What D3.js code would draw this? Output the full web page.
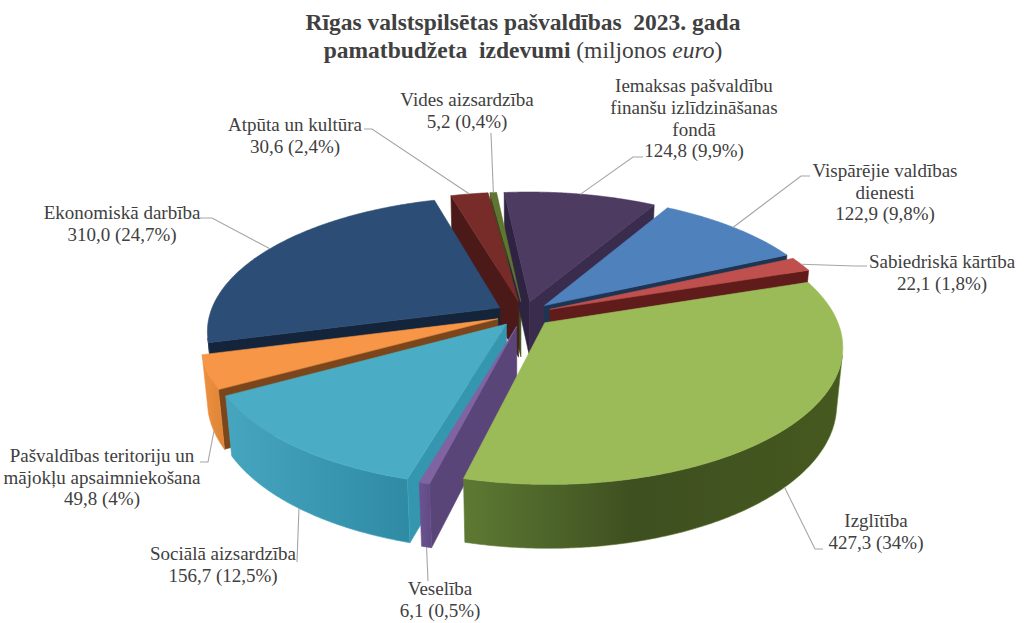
<!DOCTYPE html>
<html>
<head>
<meta charset="utf-8">
<script src="https://cdn.jsdelivr.net/npm/d3@7"></script>
<style>
  html, body { margin: 0; padding: 0; background: #ffffff; }
  svg { display: block; }
  text { white-space: pre; }
</style>
</head>
<body>
<svg id="chart" width="1024" height="623"></svg>
<script>
// ---------------- DATA ----------------
const categories = [
  "Vispārējie valdības\ndienesti",
  "Sabiedriskā kārtība",
  "Izglītība",
  "Veselība",
  "Sociālā aizsardzība",
  "Pašvaldības teritoriju un\nmājokļu apsaimniekošana",
  "Ekonomiskā darbība",
  "Atpūta un kultūra",
  "Vides aizsardzība",
  "Iemaksas pašvaldību\nfinanšu izlīdzināšanas\nfondā"
];
const values = [122.9, 22.1, 427.3, 6.1, 156.7, 49.8, 310.0, 30.6, 5.2, 124.8];
const titleLine1 = "Rīgas valstspilsētas pašvaldības  2023. gada";
const titleLine2Bold = "pamatbudžeta  izdevumi";
const titleLine2Rest = [" (miljonos ", "euro", ")"];

// ---------------- STYLES ----------------
const topColors  = ["#4F81BD", "#C0504D", "#9BBB59", "#8064A2", "#4BACC6", "#F79646", "#2C4D75", "#772C2A", "#5F7530", "#4D3B62"];
const startFaceColors = ["#2F4E73", "#6E2524", "#5C7134", "#5A4578", "#3596B0", "#7B461B", "#14253B", "#4B1917", "#3B4A1C", "#2E2340"];
const endFaceColors   = ["#1D3552", "#5F1C1A", "#4A5E27", "#5A4578", "#2E7F95", "#9A5A24", "#1A2F49", "#4B1917", "#3B4A1C", "#3A2C4C"];
const wallStops = [
  [["0", "#3E638F"], ["1", "#2E4D72"]],
  [["0", "#93403D"], ["1", "#7A302E"]],
  [["0", "#5D7A33"], ["0.45", "#3E4F20"], ["1", "#46591F"]],
  [["0", "#6B5390"], ["1", "#604A84"]],
  [["0", "#46A5BF"], ["0.5", "#3B98B2"], ["1", "#2F8BA4"]],
  [["0", "#EE9040"], ["1", "#DD8436"]],
  [["0", "#1F3A5A"], ["1", "#1A2F49"]],
  [["0", "#5A2120"], ["1", "#4B1917"]],
  [["0", "#4A5C25"], ["1", "#3B4A1C"]],
  [["0", "#3A2C4C"], ["1", "#2E2340"]]
];
const textColor = "#404040";
const leaderColor = "#A6A6A6";
const fontFamily = "'Liberation Serif', 'Times New Roman', serif";
const labelFontSize = 19, labelLineH = 21.7;

// label layout: first-line baseline, centre x, leader points from label toward pie
const labelLayout = [
  { x: 885, y: 177,   leader: [[810, 176], [801, 176]], anchor: "top" },
  { x: 942, y: 268,   leader: [[867, 266], [855, 266]], anchor: "top" },
  { x: 876, y: 527,   leader: [[823, 549], [815, 549]], anchor: "bottom" },
  { x: 440, y: 595,   leader: [[428, 581]], anchor: "bottom" },
  { x: 223, y: 560,   leader: [[297, 562]], anchor: "bottom" },
  { x: 102, y: 462,   leader: [[200, 462], [208, 462]], anchor: "bottom" },
  { x: 122, y: 219,   leader: [[200, 218], [212, 218]], anchor: "top" },
  { x: 295, y: 131,   leader: [[364, 129], [372, 129]], anchor: "top" },
  { x: 467, y: 106,   leader: [[491, 133]], anchor: "top" },
  { x: 694, y: 92.2,  leader: [[643, 157], [633, 157]], anchor: "top" }
];

// ---------------- 3D GEOMETRY ----------------
const cx = 524, cy = 314, R = 290, E = 28, H = 64;
const phi = 27 * Math.PI / 180, D = 1560;
const cosP = Math.cos(phi), sinP = Math.sin(phi);
const cam = [0, D * sinP, D * cosP];
const START = 30 * Math.PI / 180;
const STEP = Math.PI / 360;

const pie = d3.pie().sort(null).value(d => d).startAngle(START).endAngle(START + 2 * Math.PI);
const arcs = pie(values);
const total = d3.sum(values);
const mids = arcs.map(a => (a.startAngle + a.endAngle) / 2);

function P3(i, r, th, Y) {
  const m = mids[i];
  return [E * Math.sin(m) + r * Math.sin(th), Y, -E * Math.cos(m) - r * Math.cos(th)];
}
function project(p) {
  const dist = D - (p[2] * cosP + p[1] * sinP);
  const s = D / dist;
  return [cx + p[0] * s, cy + (p[2] * sinP - p[1] * cosP) * s];
}
function dist3(p) {
  return Math.hypot(p[0] - cam[0], p[1] - cam[1], p[2] - cam[2]);
}
function facing(p, n) {
  return (cam[0] - p[0]) * n[0] + (cam[1] - p[1]) * n[1] + (cam[2] - p[2]) * n[2] > 0;
}
function centroid(pts) {
  const c = [0, 0, 0];
  pts.forEach(p => { c[0] += p[0]; c[1] += p[1]; c[2] += p[2]; });
  return c.map(v => v / pts.length);
}
function angleSamples(a0, a1) {
  const n = Math.max(2, Math.ceil((a1 - a0) / STEP) + 1);
  return d3.range(n).map(k => a0 + (a1 - a0) * k / (n - 1));
}

const svg = d3.select("#chart");
const defs = svg.append("defs");
const line = d3.line();

const sideFaces = [];
const topFaces = [];

arcs.forEach((a, i) => {
  const a0 = a.startAngle, a1 = a.endAngle;
  const ths = angleSamples(a0, a1);

  // top face
  const topPts = [P3(i, 0, a0, 0)].concat(ths.map(t => P3(i, R, t, 0)));
  topFaces.push({ i, pts: topPts.map(project), fill: topColors[i] });

  // radial faces
  const sPts = [P3(i, 0, a0, 0), P3(i, R, a0, 0), P3(i, R, a0, -H), P3(i, 0, a0, -H)];
  const sC = centroid(sPts);
  if (facing(sC, [-Math.cos(a0), 0, -Math.sin(a0)])) {
    sideFaces.push({ i, pts: sPts.map(project), fill: startFaceColors[i], depth: dist3(sC) });
  }
  const ePts = [P3(i, 0, a1, 0), P3(i, R, a1, 0), P3(i, R, a1, -H), P3(i, 0, a1, -H)];
  const eC = centroid(ePts);
  if (facing(eC, [Math.cos(a1), 0, Math.sin(a1)])) {
    sideFaces.push({ i, pts: ePts.map(project), fill: endFaceColors[i], depth: dist3(eC) });
  }

  // outer curved wall (visible part only)
  const vis = ths.filter(t => facing(P3(i, R, t, -H / 2), [Math.sin(t), 0, -Math.cos(t)]));
  if (vis.length >= 2) {
    const topW = vis.map(t => P3(i, R, t, 0));
    const botW = vis.map(t => P3(i, R, t, -H)).reverse();
    const pts2 = topW.concat(botW).map(project);
    const xs = pts2.map(p => p[0]);
    const gid = "wall" + i;
    const g = defs.append("linearGradient").attr("id", gid)
      .attr("gradientUnits", "userSpaceOnUse")
      .attr("x1", d3.min(xs)).attr("x2", d3.max(xs)).attr("y1", 0).attr("y2", 0);
    wallStops[i].forEach(s => g.append("stop").attr("offset", s[0]).attr("stop-color", s[1]));
    const tm = vis[Math.floor(vis.length / 2)];
    sideFaces.push({ i, pts: pts2, fill: `url(#${gid})`, stroke: wallStops[i][0][1], depth: dist3(P3(i, R, tm, -H / 2)) });
  }
});

sideFaces.sort((p, q) => q.depth - p.depth);

const gPie = svg.append("g");
gPie.selectAll("path.side").data(sideFaces).join("path")
  .attr("class", "side")
  .attr("d", d => line(d.pts) + "Z")
  .attr("fill", d => d.fill)
  .attr("stroke", d => d.stroke || d.fill)
  .attr("stroke-width", 0.6)
  .attr("stroke-linejoin", "round");

gPie.selectAll("path.top").data(topFaces).join("path")
  .attr("class", "top")
  .attr("d", d => line(d.pts) + "Z")
  .attr("fill", d => d.fill)
  .attr("stroke", d => d.fill)
  .attr("stroke-width", 0.6)
  .attr("stroke-linejoin", "round");

// ---------------- LEADER LINES ----------------
const fmtVal = v => d3.format(".1f")(v).replace(".", ",");
const fmtPct = v => d3.format(".1~f")(v).replace(".", ",");

const gLead = svg.append("g");
arcs.forEach((a, i) => {
  const L = labelLayout[i];
  const anchorPt = L.anchor === "bottom" ? project(P3(i, R, mids[i], -H)) : project(P3(i, R, mids[i], 0));
  const pts = L.leader.concat([anchorPt]);
  gLead.append("path")
    .attr("d", line(pts))
    .attr("fill", "none")
    .attr("stroke", leaderColor)
    .attr("stroke-width", 1.1);
});

// ---------------- LABELS ----------------
const gLab = svg.append("g")
  .attr("font-family", fontFamily)
  .attr("font-size", labelFontSize)
  .attr("fill", textColor)
  .attr("text-anchor", "middle");

arcs.forEach((a, i) => {
  const L = labelLayout[i];
  const lines = categories[i].split("\n").concat([`${fmtVal(values[i])} (${fmtPct(values[i] / total * 100)}%)`]);
  const t = gLab.append("text").attr("x", L.x).attr("y", L.y);
  lines.forEach((ln, k) => {
    t.append("tspan").attr("x", L.x).attr("y", L.y + k * labelLineH).text(ln);
  });
});

// ---------------- TITLE ----------------
const gTitle = svg.append("g")
  .attr("font-family", fontFamily)
  .attr("font-size", 23.5)
  .attr("fill", textColor)
  .attr("text-anchor", "middle");
gTitle.append("text").attr("x", 523).attr("y", 30).attr("font-weight", "bold").text(titleLine1);
const t2 = gTitle.append("text").attr("x", 523).attr("y", 58);
t2.append("tspan").attr("font-weight", "bold").text(titleLine2Bold);
t2.append("tspan").text(titleLine2Rest[0]);
t2.append("tspan").attr("font-style", "italic").text(titleLine2Rest[1]);
t2.append("tspan").text(titleLine2Rest[2]);
</script>
</body>
</html>
